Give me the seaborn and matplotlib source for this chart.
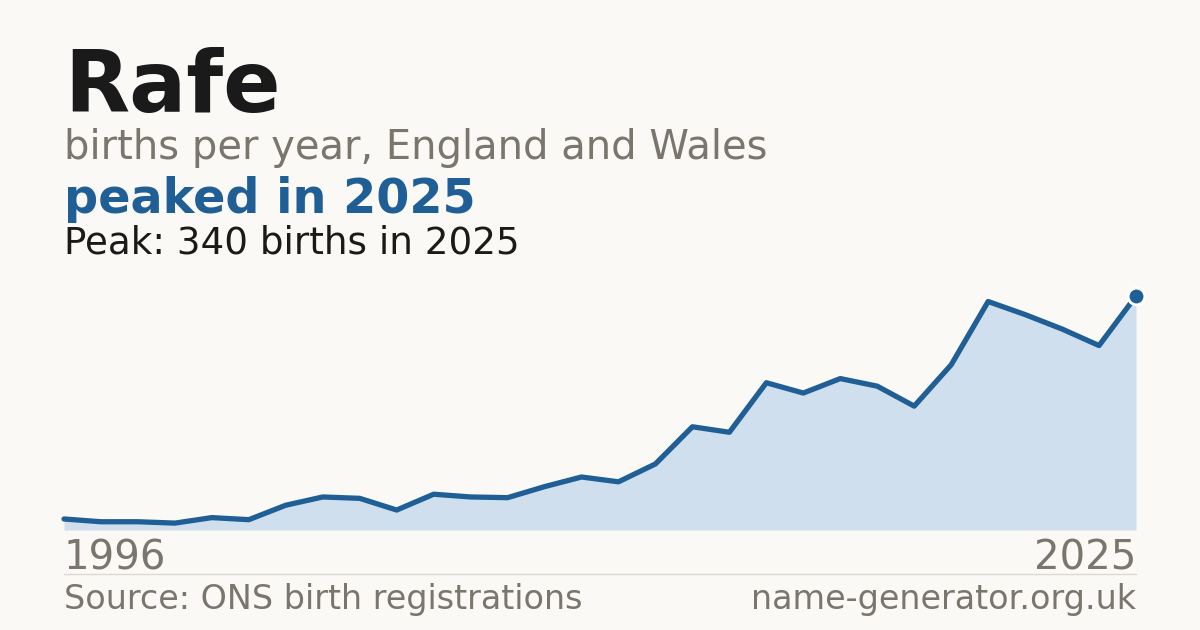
import seaborn as sns
import matplotlib.pyplot as plt
import numpy as np
import pandas as pd

# births of the name Rafe
years = list(range(1996, 2026))
births = [16, 12, 12, 10, 18, 15, 36, 48, 46, 29,
          52, 48, 47, 63, 77, 70, 96, 150, 142, 214,
          199, 220, 209, 180, 240, 332, 313, 292, 268, 340]
first_label = "1996"
last_label = "2025"

bg = "#faf9f5"
blue = "#1f5f96"
fill_col = "#cfdfee"
grey = "#7a756d"
dark = "#1a1a1a"

df = pd.DataFrame({"year": years, "births": births})

sns.set_theme(style="white")
plt.rcParams["font.family"] = ["DejaVu Sans"]

fig = plt.figure(figsize=(12, 6.3), dpi=100, facecolor=bg)
ax = fig.add_axes([64 / 1200, 100 / 630, 1072 / 1200, 234 / 630])
ax.set_facecolor(bg)

ax.fill_between(df["year"], df["births"], 0, color=fill_col, lw=0, zorder=1)
sns.lineplot(data=df, x="year", y="births", ax=ax, color=blue, lw=3.8,
             zorder=3, clip_on=False)
peak_i = int(np.argmax(births))
ax.plot([years[peak_i]], [births[peak_i]], "o", ms=12, color=blue,
        mec="white", mew=2, zorder=4, clip_on=False)
ax.axhline(0, color="#dcd8d0", lw=1, zorder=2)

ax.set_xlim(years[0], years[-1])
ax.set_ylim(0, max(births))
ax.set_axis_off()

x0 = 64 / 1200
x1 = 1136 / 1200
fig.text(x0, 1 - 112 / 630, "Rafe", fontsize=61, fontweight="bold",
         color=dark, va="baseline", ha="left")
fig.text(x0, 1 - 159 / 630, "births per year, England and Wales",
         fontsize=28.8, color=grey, va="baseline", ha="left")
fig.text(x0, 1 - 213 / 630, "peaked in 2025", fontsize=34.4,
         fontweight="bold", color=blue, va="baseline", ha="left")
fig.text(x0, 1 - 253 / 630, "Peak: 340 births in 2025", fontsize=26.8,
         color=dark, va="baseline", ha="left")

fig.text(x0, 1 - 569 / 630, first_label, fontsize=29, color=grey,
         va="baseline", ha="left")
fig.text(x1, 1 - 569 / 630, last_label, fontsize=29, color=grey,
         va="baseline", ha="right")

fig.add_artist(plt.Line2D([x0, x1], [1 - 574 / 630, 1 - 574 / 630],
                          color="#dcd8d0", lw=1))
fig.text(x0, 1 - 609 / 630, "Source: ONS birth registrations",
         fontsize=24, color=grey, va="baseline", ha="left")
fig.text(x1, 1 - 609 / 630, "name-generator.org.uk", fontsize=24,
         color=grey, va="baseline", ha="right")

fig.savefig("out.png", dpi=100, facecolor=bg)
